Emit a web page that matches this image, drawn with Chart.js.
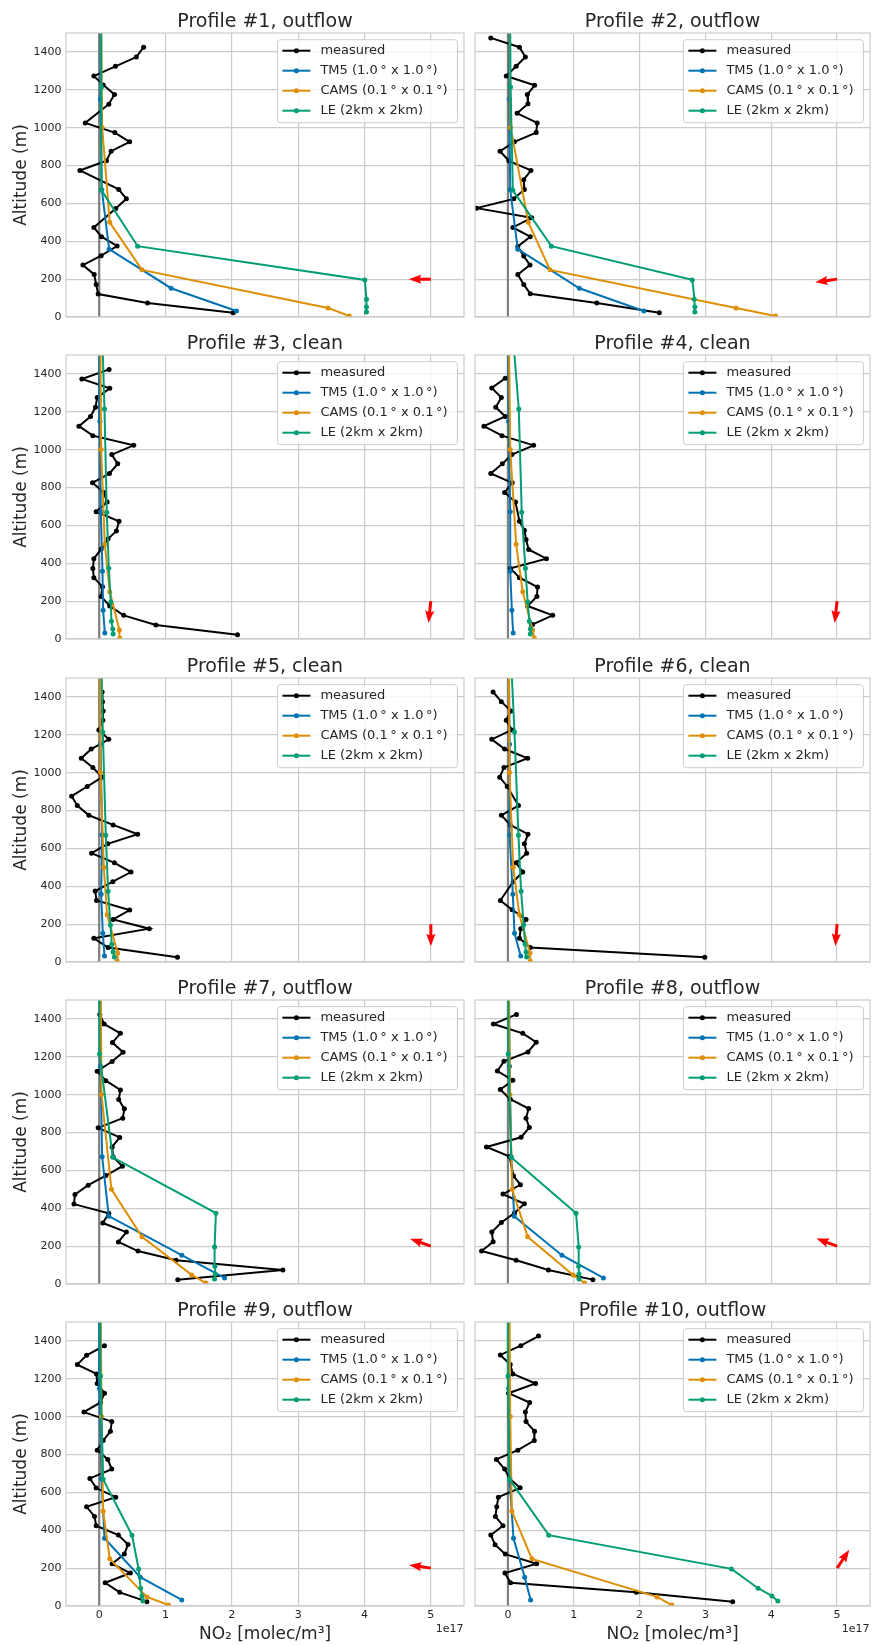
<!DOCTYPE html>
<html>
<head>
<meta charset="utf-8">
<script src="https://cdn.jsdelivr.net/npm/chart.js@4.4.1/dist/chart.umd.min.js"></script>
<style>
  body { margin: 0; background: #fff; }
  #fig { position: relative; width: 874px; height: 1645px; overflow: hidden; background: #fff; }
  #fig canvas { position: absolute; }
</style>
</head>
<body>
<div id="fig"></div>
<script>
// NO2 profiles: aircraft measurements vs. three models, NO2 in units of 1e17 molec/m3

var titles = [
	"Profile #1, outflow", "Profile #2, outflow", "Profile #3, clean", "Profile #4, clean",
	"Profile #5, clean", "Profile #6, clean", "Profile #7, outflow", "Profile #8, outflow",
	"Profile #9, outflow", "Profile #10, outflow"
];
var seriesLabels = ["measured", "TM5 (1.0\u2009° x 1.0\u2009°)", "CAMS (0.1\u2009° x 0.1\u2009°)", "LE (2km x 2km)"];
var seriesColors = ["#000000", "#0173B2", "#DE8F05", "#029E73"];
var xTicks = [0, 1, 2, 3, 4, 5];
var yTicks = [0, 200, 400, 600, 800, 1000, 1200, 1400];

// model level heights (m)
var tm5Alt  = [32, 152, 358, 672, 1150, 1800];
var camsAlt = [5, 48, 249, 500, 1001, 1800];
var leAlt   = [26, 53, 94, 196, 374, 669, 1215, 1800];

// measured profiles, one row per flight
var measuredAlt = [
	[1425,1373,1324,1273,1226,1175,1124,1025,974,925,876,825,774,674,624,573,473,424,375,324,274,225,172,121,74,23],
	[1474,1425,1373,1324,1273,1224,1175,1126,1076,1025,974,925,876,825,774,725,674,624,575,524,473,424,372,322,274,225,172,123,74,23],
	[1424,1373,1324,1275,1224,1175,1124,1074,1023,974,925,874,825,774,723,672,622,570,529,475,424,373,324,276,225,174,125,74,23],
	[1377,1326,1275,1224,1175,1124,1074,1023,974,925,874,825,774,723,622,575,526,473,424,373,324,274,225,174,125,77],
	[1426,1375,1326,1277,1226,1176,1125,1076,1027,976,927,876,826,775,724,675,624,575,524,475,424,375,325,274,225,176,125,76,25],
	[1426,1375,1326,1277,1226,1176,1125,1076,1027,976,927,826,775,724,675,624,575,524,475,424,325,276,225,176,125,76,25],
	[1424,1373,1324,1275,1224,1175,1124,1074,1025,974,925,876,825,774,724,672,622,573,522,473,422,373,322,274,222,174,125,74,23],
	[1424,1373,1324,1277,1226,1176,1125,1076,1027,976,927,876,826,775,724,673,571,524,475,424,375,325,274,223,174,125,74,23],
	[1375,1324,1275,1226,1175,1124,1075,1024,974,923,874,823,774,723,674,623,575,524,473,424,375,325,274,223,174,123,72,23],
	[1426,1375,1326,1275,1226,1175,1124,1075,1024,974,923,874,823,774,723,674,624,575,524,473,424,375,324,274,223,174,123,72,23]
];
var measuredNO2 = [
	[0.67,0.56,0.245,-0.08,0.06,0.23,0.145,-0.21,0.235,0.46,0.18,0.11,-0.29,0.295,0.41,0.25,-0.08,0.035,0.27,0.03,-0.245,-0.075,-0.045,-0.015,0.73,2.02],
	[-0.26,0.175,0.265,0.125,-0.025,0.405,0.295,0.305,0.14,0.445,0.43,0.10,-0.12,0.015,0.35,0.24,0.25,0.09,-0.475,0.36,0.075,0.34,0.15,0.24,0.335,0.15,0.24,0.34,1.35,2.30],
	[0.15,-0.26,0.16,-0.03,-0.055,-0.13,-0.305,-0.095,0.52,0.19,0.28,0.155,-0.10,0.07,0.12,-0.045,0.30,0.26,0.135,0.03,-0.08,-0.095,-0.08,0.05,0.03,0.16,0.37,0.855,2.085],
	[-0.04,-0.245,-0.10,-0.185,-0.04,-0.365,-0.09,0.39,0.06,-0.085,-0.26,0.065,-0.05,0.115,0.175,0.25,0.275,0.315,0.585,0.04,0.175,0.45,0.44,0.30,0.68,0.375],
	[0.045,0.05,0.06,0.055,-0.005,0.145,-0.12,-0.27,-0.095,0.045,-0.18,-0.415,-0.33,-0.155,0.21,0.58,0.13,-0.115,0.23,0.48,0.205,-0.06,-0.04,0.46,0.21,0.755,-0.08,0.135,1.18],
	[-0.225,-0.10,0.045,-0.025,0.06,-0.245,-0.05,0.30,-0.06,-0.125,-0.01,0.16,-0.10,0.035,0.305,0.25,0.285,0.125,0.225,0.08,-0.115,0.065,0.275,0.195,0.175,0.34,2.99],
	[0.01,0.075,0.32,0.20,0.36,0.195,-0.03,0.10,0.32,0.295,0.38,0.355,-0.015,0.31,0.195,0.21,0.35,0.10,-0.165,-0.365,-0.38,0.145,0.055,0.41,0.29,0.585,1.16,2.77,1.185],
	[0.13,-0.22,0.225,0.43,0.305,-0.06,-0.16,0.075,-0.115,0.035,0.315,0.275,0.325,0.20,-0.325,0.025,0.085,0.19,-0.075,0.25,0.10,-0.10,-0.245,-0.225,-0.40,0.125,0.615,1.29],
	[0.08,-0.19,-0.33,-0.04,-0.03,0.08,0.02,-0.23,0.19,0.17,0.06,-0.03,0.13,0.19,-0.14,-0.045,0.25,-0.19,-0.07,-0.045,0.29,0.435,0.38,0.195,0.47,0.09,0.31,0.72],
	[0.465,0.195,-0.115,0.035,0.075,0.42,0.01,0.33,0.265,0.275,0.405,0.40,0.15,-0.175,-0.05,0.025,0.185,-0.145,-0.17,-0.19,-0.075,-0.26,-0.195,-0.04,0.435,-0.045,0.04,1.95,3.415]
];

// model columns on their own levels
var tm5NO2 = [
	[2.07,1.085,0.15,0.04,0.02,0.02],
	[2.065,1.085,0.15,0.035,0.02,0.02],
	[0.085,0.06,0.05,0.025,0.01,0.0],
	[0.08,0.06,0.035,0.035,0.01,0.0],
	[0.08,0.055,0.03,0.045,0.02,0.01],
	[0.195,0.10,0.075,0.025,0.025,0.01],
	[1.89,1.245,0.145,0.045,0.02,0.01],
	[1.45,0.82,0.095,0.05,0.025,0.01],
	[1.245,0.62,0.08,0.035,0.005,0.0],
	[0.345,0.255,0.085,0.025,0.01,0.0]
];
var camsNO2 = [
	[3.77,3.45,0.645,0.16,0.045,0.02],
	[4.065,3.465,0.64,0.31,0.04,0.02],
	[0.31,0.305,0.16,0.085,0.03,0.014],
	[0.40,0.375,0.225,0.125,0.035,0.01],
	[0.27,0.28,0.12,0.07,0.02,0.01],
	[0.34,0.335,0.175,0.08,0.025,0.01],
	[1.61,1.395,0.645,0.185,0.035,0.02],
	[1.165,0.99,0.30,0.065,0.03,0.01],
	[1.045,0.72,0.16,0.06,0.035,0.02],
	[2.49,2.265,0.365,0.06,0.035,0.02]
];
var leNO2 = [
	[4.03,4.03,4.03,4.005,0.58,0.035,0.035,0.03],
	[2.84,2.84,2.83,2.80,0.66,0.075,0.04,0.03],
	[0.21,0.205,0.185,0.175,0.145,0.115,0.08,0.03],
	[0.34,0.34,0.325,0.30,0.265,0.21,0.165,0.03],
	[0.23,0.21,0.19,0.17,0.135,0.10,0.055,0.02],
	[0.285,0.275,0.26,0.24,0.20,0.16,0.10,0.02],
	[1.74,1.75,1.745,1.74,1.76,0.205,0.005,0.005],
	[1.08,1.08,1.075,1.075,1.035,0.05,0.005,0.005],
	[0.66,0.645,0.625,0.595,0.495,0.06,0.02,0.01],
	[4.10,4.01,3.80,3.395,0.62,0.025,0.0,0.0]
];

// wind direction (east / north components), drawn as an arrow at 5e17, 200 m
var windU = [-1.0, -0.99, -0.11, -0.11, 0.0, -0.08, -0.94, -0.94, -0.99, 0.55];
var windV = [0.0, -0.14, -0.99, -0.99, -1.0, -1.0, 0.33, 0.35, 0.14, 0.83];

Chart.defaults.font.family = "'DejaVu Sans', sans-serif";
var textColor = "#262626";
var gridColor = "#cccccc";

function profilePoints(xs, alts) {
	return xs.map(function(v, k) { return {x: v, y: alts[k]}; });
}

// vertical reference line at zero
var zeroLine = {
	id: "zeroLine",
	beforeDatasetsDraw: function(chart) {
		var ctx = chart.ctx, a = chart.chartArea;
		var px = chart.scales.x.getPixelForValue(0);
		ctx.save();
		ctx.strokeStyle = "#808080";
		ctx.lineWidth = 2.2;
		ctx.beginPath();
		ctx.moveTo(px, a.top);
		ctx.lineTo(px, a.bottom);
		ctx.stroke();
		ctx.restore();
	}
};

// light frame round the plot area
var frame = {
	id: "frame",
	afterDatasetsDraw: function(chart) {
		var ctx = chart.ctx, a = chart.chartArea;
		ctx.save();
		ctx.strokeStyle = gridColor;
		ctx.lineWidth = 1.2;
		ctx.strokeRect(a.left, a.top, a.right - a.left, a.bottom - a.top);
		ctx.restore();
	}
};

// red wind arrow, tail at (5, 200)
var windArrow = {
	id: "windArrow",
	afterDatasetsDraw: function(chart, args, opts) {
		var ctx = chart.ctx;
		var x0 = chart.scales.x.getPixelForValue(5);
		var y0 = chart.scales.y.getPixelForValue(200);
		var L = 22, w = 3, hl = 12.5, ha = 11, hw = 4.6;
		ctx.save();
		ctx.translate(x0, y0);
		ctx.rotate(Math.atan2(-opts.v, opts.u));
		ctx.fillStyle = "#ff0000";
		ctx.beginPath();
		ctx.moveTo(0, -w / 2);
		ctx.lineTo(L - ha, -w / 2);
		ctx.lineTo(L - hl, -hw);
		ctx.lineTo(L, 0);
		ctx.lineTo(L - hl, hw);
		ctx.lineTo(L - ha, w / 2);
		ctx.lineTo(0, w / 2);
		ctx.closePath();
		ctx.fill();
		ctx.restore();
	}
};

// boxed legend in the upper right corner
var boxLegend = {
	id: "boxLegend",
	afterDraw: function(chart) {
		var ctx = chart.ctx, a = chart.chartArea;
		var w = 180, h = 83;
		var bx = a.right - 6.6 - w, by = a.top + 6.7;
		ctx.save();
		ctx.fillStyle = "rgba(255,255,255,0.8)";
		ctx.strokeStyle = gridColor;
		ctx.lineWidth = 1;
		ctx.beginPath();
		ctx.roundRect(bx, by, w, h, 3);
		ctx.fill();
		ctx.stroke();
		ctx.font = "13px 'DejaVu Sans'";
		ctx.textBaseline = "middle";
		chart.data.datasets.forEach(function(ds, i) {
			var ly = by + 11 + i * 20;
			ctx.strokeStyle = ds.borderColor;
			ctx.lineWidth = 2;
			ctx.beginPath();
			ctx.moveTo(bx + 5, ly);
			ctx.lineTo(bx + 33, ly);
			ctx.stroke();
			ctx.fillStyle = ds.borderColor;
			ctx.beginPath();
			ctx.arc(bx + 19, ly, 2.5, 0, Math.PI * 2);
			ctx.fill();
			ctx.fillStyle = textColor;
			ctx.fillText(ds.label, bx + 43, ly);
		});
		ctx.restore();
	}
};

// scale factor of the x axis, under its right end
var offsetText = {
	id: "offsetText",
	afterDraw: function(chart, args, opts) {
		if (!opts.display) return;
		var ctx = chart.ctx, a = chart.chartArea;
		ctx.save();
		ctx.font = "11px 'DejaVu Sans'";
		ctx.fillStyle = textColor;
		ctx.textAlign = "right";
		ctx.textBaseline = "middle";
		ctx.fillText("1e17", a.right - 0.5, a.bottom + 23.4);
		ctx.restore();
	}
};

var fig = document.getElementById("fig");

for (var i = 0; i < titles.length; i++) {
	(function(i) {
		var r = Math.floor(i / 2), c = i % 2;
		var top = Math.round(33.3 + r * 322.1);
		var cy = top - 33;
		var ch = r < 4 ? Math.round(33.3 + (r + 1) * 322.1) - 33 - cy : 1645 - cy;
		var cx = c === 0 ? 0 : 470, cw = c === 0 ? 470 : 404;
		var xAxisH = ch - 33 - 284;
		var yAxisW = c === 0 ? 66 : 5;

		var canvas = document.createElement("canvas");
		canvas.width = cw;
		canvas.height = ch;
		canvas.style.left = cx + "px";
		canvas.style.top = cy + "px";
		canvas.style.width = cw + "px";
		canvas.style.height = ch + "px";
		fig.appendChild(canvas);

		var series = [
			profilePoints(measuredNO2[i], measuredAlt[i]),
			profilePoints(tm5NO2[i], tm5Alt),
			profilePoints(camsNO2[i], camsAlt),
			profilePoints(leNO2[i], leAlt)
		];
		var datasets = series.map(function(pts, k) {
			return {
				label: seriesLabels[k],
				data: pts,
				showLine: true,
				borderColor: seriesColors[k],
				backgroundColor: seriesColors[k],
				pointBackgroundColor: seriesColors[k],
				borderWidth: 2,
				pointRadius: 2.5,
				pointBorderWidth: 0,
				order: 4 - k
			};
		});

		new Chart(canvas.getContext("2d"), {
			type: "scatter",
			data: {datasets: datasets},
			options: {
				responsive: false,
				animation: false,
				devicePixelRatio: 1,
				events: [],
				layout: {padding: {left: 0, right: c === 0 ? 6 : 0, top: 0, bottom: 0}},
				plugins: {
					legend: {display: false},
					tooltip: {enabled: false},
					title: {
						display: true,
						fullSize: false,
						text: titles[i],
						color: textColor,
						font: {size: 19, weight: "normal", lineHeight: 1},
						padding: {top: 13, bottom: 1}
					},
					windArrow: {u: windU[i], v: windV[i]},
					offsetText: {display: r === 4}
				},
				scales: {
					x: {
						type: "linear",
						min: -0.5,
						max: 5.5,
						afterBuildTicks: function(s) { s.ticks = xTicks.map(function(v) { return {value: v}; }); },
						afterFit: function(s) { s.height = xAxisH; s.paddingLeft = 0; s.paddingRight = 0; },
						grid: {color: gridColor, lineWidth: 1.2, drawTicks: false},
						border: {display: false},
						ticks: {
							display: r === 4,
							color: textColor,
							font: {size: 11},
							padding: 3,
							maxRotation: 0,
							autoSkip: false,
							callback: function(v) { return String(v); }
						},
						title: {
							display: r === 4,
							text: "NO₂ [molec/m³]",
							color: textColor,
							font: {size: 17},
							padding: {top: 0, bottom: 0}
						}
					},
					y: {
						type: "linear",
						min: 0,
						max: 1500,
						afterBuildTicks: function(s) { s.ticks = yTicks.map(function(v) { return {value: v}; }); },
						afterFit: function(s) { s.width = yAxisW; s.paddingTop = 0; s.paddingBottom = 0; },
						grid: {color: gridColor, lineWidth: 1.2, drawTicks: false},
						border: {display: false},
						ticks: {
							display: c === 0,
							color: textColor,
							font: {size: 11},
							padding: 4.5,
							autoSkip: false,
							callback: function(v) { return String(v); }
						},
						title: {
							display: c === 0,
							text: "Altitude (m)",
							color: textColor,
							font: {size: 17},
							padding: {top: 11, bottom: 0}
						}
					}
				}
			},
			plugins: [zeroLine, frame, windArrow, boxLegend, offsetText]
		});
	})(i);
}
</script>
</body>
</html>
